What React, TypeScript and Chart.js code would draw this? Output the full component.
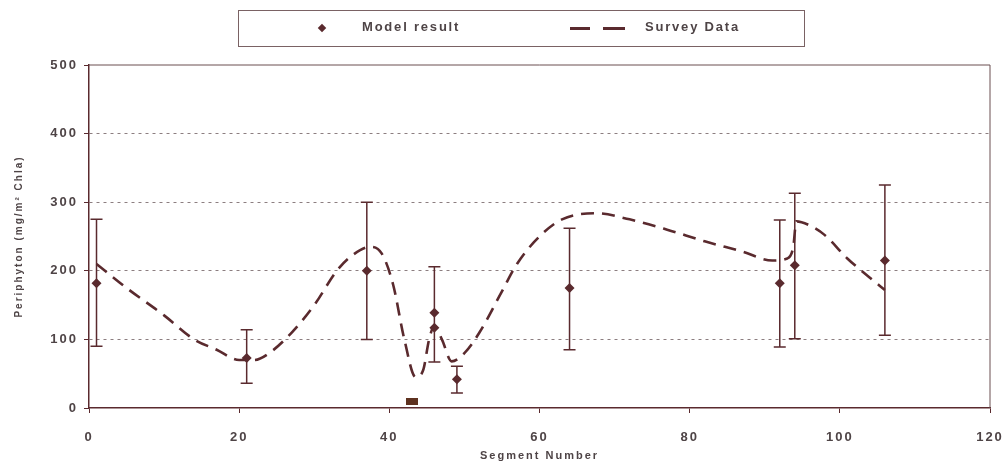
import React, { useEffect, useRef } from "react";
import { Chart, registerables } from "chart.js";

Chart.register(...registerables);

// Model results with their error ranges (segment number, chlorophyll a)
const modelX = [1, 21, 37, 43, 46, 46, 49, 64, 92, 94, 106];
const modelY = [182, 73, 200, 10, 139, 117, 42, 175, 182, 208, 215];
const errLow: (number | null)[] = [90, 36, 100, null, 67, null, 22, 85, 89, 101, 106];
const errHigh: (number | null)[] = [275, 114, 300, null, 206, null, 61, 262, 274, 313, 325];

// Survey data curve
const surveyX = [1, 5, 10, 14, 17, 20, 22, 24, 27, 30, 33, 35, 37.5, 39, 40.5, 42, 43.5, 44.5, 45.3, 46, 47, 48.3, 50, 52, 55, 57, 60, 63, 67.5, 72, 77, 82, 87, 91, 93, 93.8, 94.2, 96, 98, 101, 104, 106];
const surveyY = [210, 175, 135, 100, 85, 70, 70, 80, 110, 150, 200, 222, 235, 225, 180, 100, 45, 55, 100, 120, 100, 68, 80, 110, 170, 210, 250, 275, 284, 275, 260, 243, 228, 215, 218, 235, 272, 266, 252, 218, 190, 172];

const xTicks = [0, 20, 40, 60, 80, 100, 120];
const yTicks = [0, 100, 200, 300, 400, 500];

const INK = "#5a2a2e";
const TEXT = "#4e4446";
const FONT = "'Liberation Sans', Arial, sans-serif";

const spacing = {
  id: "spacing",
  beforeDraw(chart: any) {
    (chart.ctx as any).letterSpacing = "2px";
  },
};

const frame = {
  id: "frame",
  afterDraw(chart: any) {
    const { ctx, chartArea: a } = chart;
    ctx.save();
    ctx.strokeStyle = "#6a4e50";
    ctx.lineWidth = 1;
    ctx.beginPath();
    ctx.moveTo(a.left, a.top);
    ctx.lineTo(a.right, a.top);
    ctx.lineTo(a.right, a.bottom);
    ctx.stroke();
    ctx.restore();
  },
};

const errorBars = {
  id: "errorBars",
  beforeDatasetsDraw(chart: any) {
    const { ctx } = chart;
    const x = chart.scales.x;
    const y = chart.scales.y;
    ctx.save();
    ctx.strokeStyle = INK;
    ctx.lineWidth = 1.5;
    modelX.forEach((v, i) => {
      const lo = errLow[i];
      const hi = errHigh[i];
      if (lo == null || hi == null) return;
      const px = x.getPixelForValue(v);
      const pl = y.getPixelForValue(lo);
      const ph = y.getPixelForValue(hi);
      ctx.beginPath();
      ctx.moveTo(px, pl);
      ctx.lineTo(px, ph);
      ctx.moveTo(px - 6, pl);
      ctx.lineTo(px + 6, pl);
      ctx.moveTo(px - 6, ph);
      ctx.lineTo(px + 6, ph);
      ctx.stroke();
    });
    ctx.restore();
  },
};

export default function App() {
  const ref = useRef<HTMLCanvasElement | null>(null);

  useEffect(() => {
    if (!ref.current) return;
    const bar = document.createElement("canvas");
    bar.width = 12;
    bar.height = 7;
    const bctx = bar.getContext("2d")!;
    bctx.fillStyle = "#5e3220";
    bctx.fillRect(0, 0, 12, 7);

    const pointStyles = modelX.map((_, i) => (i === 3 ? bar : "rectRot"));

    const chart = new Chart(ref.current, {
      type: "line",
      data: {
        datasets: [
          {
            label: "Model result",
            data: modelX.map((x, i) => ({ x, y: modelY[i] })),
            showLine: false,
            pointStyle: pointStyles as any,
            pointRadius: 5,
            backgroundColor: INK,
            borderColor: INK,
            borderWidth: 0,
          },
          {
            label: "Survey Data",
            data: surveyX.map((x, i) => ({ x, y: surveyY[i] })),
            borderColor: INK,
            borderWidth: 2.6,
            borderDash: [13, 8],
            pointRadius: 0,
            cubicInterpolationMode: "monotone",
            fill: false,
          },
        ],
      },
      options: {
        responsive: false,
        animation: false,
        layout: { padding: { top: 65, right: 15, left: 0, bottom: 0 } },
        plugins: { legend: { display: false }, tooltip: { enabled: false } },
        scales: {
          x: {
            type: "linear",
            min: 0,
            max: 120,
            afterFit(scale: any) {
              scale.height = 55;
              scale.paddingLeft = 0;
              scale.paddingRight = 0;
            },
            afterBuildTicks(scale: any) {
              scale.ticks = xTicks.map((v) => ({ value: v }));
            },
            border: { color: INK, width: 1.5 },
            grid: { drawOnChartArea: false, drawTicks: true, tickLength: 5, color: INK },
            ticks: {
              color: TEXT,
              padding: 17,
              maxRotation: 0,
              font: { family: FONT, size: 13, weight: "bold" },
            },
            title: {
              display: true,
              text: "Segment Number",
              color: TEXT,
              padding: { top: 0, bottom: 0 },
              font: { family: FONT, size: 11, weight: "bold" },
            },
          },
          y: {
            type: "linear",
            min: 0,
            max: 500,
            afterFit(scale: any) {
              scale.width = 89;
              scale.paddingTop = 0;
              scale.paddingBottom = 0;
            },
            afterBuildTicks(scale: any) {
              scale.ticks = yTicks.map((v) => ({ value: v }));
            },
            border: { color: INK, width: 1.5, dash: [3, 4] },
            grid: {
              drawTicks: true,
              tickLength: 5,
              color: (c: any) =>
                c.tick && (c.tick.value === 0 || c.tick.value === 500) ? "rgba(0,0,0,0)" : "#8c7e80",
              tickColor: INK,
              lineWidth: 1,
            },
            ticks: {
              color: TEXT,
              padding: 6,
              font: { family: FONT, size: 13, weight: "bold" },
            },
            title: {
              display: true,
              text: "Periphyton (mg/m² Chla)",
              color: TEXT,
              padding: { top: 13, bottom: 0 },
              font: { family: FONT, size: 10, weight: "bold" },
            },
          },
        },
      },
      plugins: [spacing, errorBars, frame],
    } as any);
    return () => chart.destroy();
  }, []);

  const legendText: React.CSSProperties = {
    position: "absolute",
    top: 19,
    fontFamily: FONT,
    fontWeight: "bold",
    fontSize: 13,
    letterSpacing: "1.8px",
    color: TEXT,
    lineHeight: "16px",
  };

  return (
    <div style={{ position: "absolute", left: 0, top: 0, width: 1005, height: 463, background: "#fff" }}>
      <canvas ref={ref} width={1005} height={463} style={{ position: "absolute", left: 0, top: 0 }} />
      <div
        style={{
          position: "absolute",
          left: 238,
          top: 10,
          width: 567,
          height: 37,
          border: "1px solid #7a6264",
          boxSizing: "border-box",
        }}
      />
      <div
        style={{
          position: "absolute",
          left: 319,
          top: 25,
          width: 6,
          height: 6,
          background: INK,
          transform: "rotate(45deg)",
        }}
      />
      <div style={{ ...legendText, left: 362 }}>Model result</div>
      <div style={{ position: "absolute", left: 570, top: 27, width: 20, height: 2.5, background: INK }} />
      <div style={{ position: "absolute", left: 603, top: 27, width: 22, height: 2.5, background: INK }} />
      <div style={{ ...legendText, left: 645 }}>Survey Data</div>
    </div>
  );
}
